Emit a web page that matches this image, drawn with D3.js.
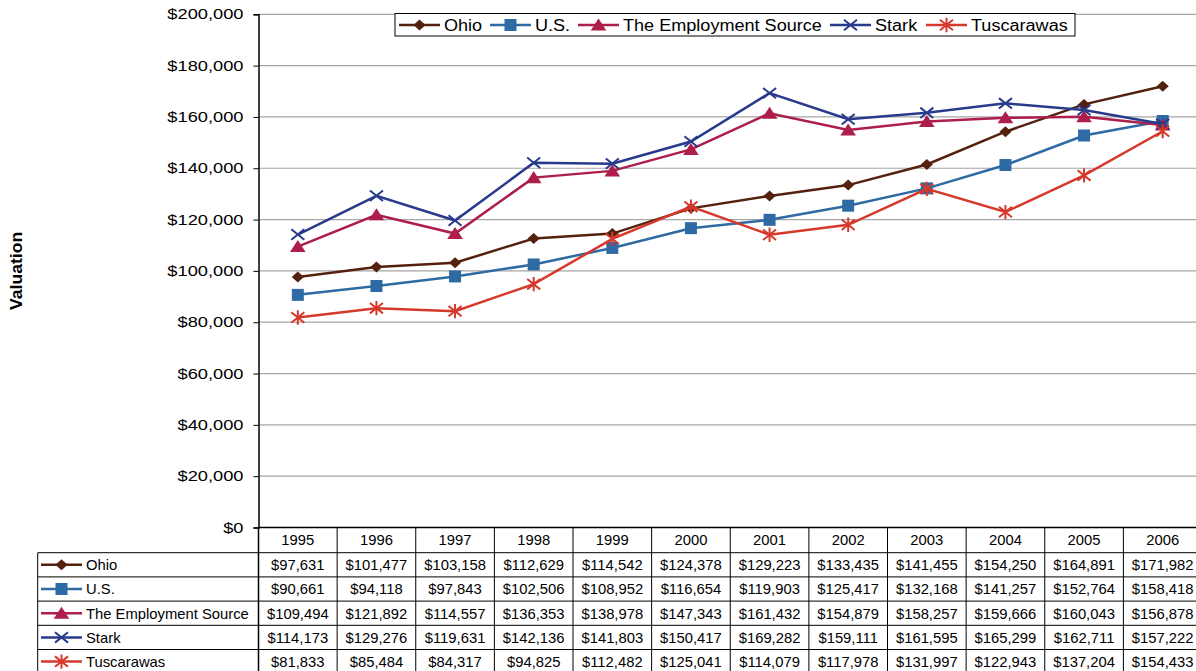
<!DOCTYPE html>
<html>
<head>
<meta charset="utf-8">
<script src="https://d3js.org/d3.v7.min.js"></script>
<style>
  body { margin: 0; background: #fff; }
  text { font-family: Arial, "Liberation Sans", sans-serif; fill: #000; }
</style>
</head>
<body>
<div id="chart"></div>
<script>
// data
var years = ["1995","1996","1997","1998","1999","2000","2001","2002","2003","2004","2005","2006"];
var ohio = [97631,101477,103158,112629,114542,124378,129223,133435,141455,154250,164891,171982];
var us = [90661,94118,97843,102506,108952,116654,119903,125417,132168,141257,152764,158418];
var tes = [109494,121892,114557,136353,138978,147343,161432,154879,158257,159666,160043,156878];
var stark = [114173,129276,119631,142136,141803,150417,169282,159111,161595,165299,162711,157222];
var tusc = [81833,85484,84317,94825,112482,125041,114079,117978,131997,122943,137204,154433];
var yTicks = [0,20000,40000,60000,80000,100000,120000,140000,160000,180000,200000];

var W = 1196, H = 671;
var plotLeft = 258.5, plotRight = 1202, plotTop = 14.3, plotBottom = 527.5;
var rowH = 24.2, headH = 25.2, tableLeft = 37.7;

// custom marker shapes, r = half size
function marker(kind, r) {
  var p = d3.path();
  if (kind == "diamond") {
    p.moveTo(0,-r); p.lineTo(r*1.1,0); p.lineTo(0,r); p.lineTo(-r*1.1,0); p.closePath();
  } else if (kind == "square") {
    p.rect(-r,-r,2*r,2*r);
  } else if (kind == "triangle") {
    p.moveTo(0,-r); p.lineTo(r*1.2,r*0.85); p.lineTo(-r*1.2,r*0.85); p.closePath();
  } else if (kind == "x") {
    p.moveTo(-r,-r*0.8); p.lineTo(r,r*0.8); p.moveTo(-r,r*0.8); p.lineTo(r,-r*0.8);
  } else {
    p.moveTo(-r,-r*0.8); p.lineTo(r,r*0.8); p.moveTo(-r,r*0.8); p.lineTo(r,-r*0.8);
    p.moveTo(0,-r*1.1); p.lineTo(0,r*1.1);
  }
  return p.toString();
}

var series = [
  {name: "Ohio", values: ohio, color: "#55210f", shape: "diamond", r: 5.5, filled: true},
  {name: "U.S.", values: us, color: "#2e6aa3", shape: "square", r: 6, filled: true},
  {name: "The Employment Source", values: tes, color: "#ad1e4a", shape: "triangle", r: 6.5, filled: true},
  {name: "Stark", values: stark, color: "#283a8c", shape: "x", r: 6.5, filled: false},
  {name: "Tuscarawas", values: tusc, color: "#d6392c", shape: "star", r: 6.5, filled: false}
];

var svg = d3.select("#chart").append("svg")
  .attr("width", W).attr("height", H);

var x = d3.scaleBand().domain(years).range([plotLeft, plotRight]);
var y = d3.scaleLinear().domain([0, 200000]).range([plotBottom, plotTop]);

// gridlines
svg.append("g").selectAll("line")
  .data(yTicks.filter(function(d){ return d > 0; }))
  .enter().append("line")
    .attr("x1", plotLeft).attr("x2", W)
    .attr("y1", function(d){ return y(d); }).attr("y2", function(d){ return y(d); })
    .attr("stroke", "#a6a6a6").attr("stroke-width", 1.2);

// y axis
var yAxis = svg.append("g")
  .attr("transform", "translate(" + plotLeft + ",0)")
  .call(d3.axisLeft(y).tickValues(yTicks).tickSize(5).tickPadding(10).tickFormat(d3.format("$,")));
yAxis.select(".domain").attr("stroke", "#000").attr("stroke-width", 1.5);
yAxis.selectAll(".tick line").attr("stroke", "#000");
// labels in the original are drawn wider than normal
yAxis.selectAll("text")
  .attr("x", 0)
  .attr("transform", "translate(-15,0) scale(1.26,1)")
  .attr("font-size", "14.5px")
  .attr("font-family", "Arial, 'Liberation Sans', sans-serif");

svg.append("text")
  .attr("transform", "translate(22," + ((plotTop + plotBottom) / 2) + ") rotate(-90) scale(1.1,1)")
  .attr("text-anchor", "middle")
  .attr("font-weight", "bold")
  .attr("font-size", "16px")
  .text("Valuation");

// lines and markers
var line = d3.line()
  .x(function(d, i){ return x(years[i]) + x.bandwidth() / 2; })
  .y(function(d){ return y(d); });

series.forEach(function(s) {
  var g = svg.append("g");
  g.append("path")
    .attr("d", line(s.values))
    .attr("fill", "none")
    .attr("stroke", s.color)
    .attr("stroke-width", 2.5);
  g.selectAll("path.m")
    .data(s.values)
    .enter().append("path")
      .attr("class", "m")
      .attr("d", marker(s.shape, s.r))
      .attr("transform", function(d, i){ return "translate(" + (x(years[i]) + x.bandwidth() / 2) + "," + y(d) + ")"; })
      .attr("fill", s.filled ? s.color : "none")
      .attr("stroke", s.color)
      .attr("stroke-width", s.filled ? 0 : 2);
});

// legend box at the top
var legend = svg.append("g");
legend.append("rect")
  .attr("x", 395).attr("y", 13.5).attr("width", 680).attr("height", 22.5)
  .attr("fill", "#fff").attr("stroke", "#000").attr("stroke-width", 1);
var legX = [399, 490, 578, 830, 926];
series.forEach(function(s, i) {
  var lg = legend.append("g").attr("transform", "translate(" + legX[i] + ",25)");
  lg.append("line").attr("x1", 0).attr("x2", 41).attr("stroke", s.color).attr("stroke-width", 2.5);
  lg.append("path").attr("d", marker(s.shape, s.r))
    .attr("transform", "translate(20.5,0)")
    .attr("fill", s.filled ? s.color : "none")
    .attr("stroke", s.color).attr("stroke-width", s.filled ? 0 : 2);
  lg.append("text").attr("transform", "translate(45,0) scale(1.13,1)").attr("dy", "0.36em")
    .attr("font-size", "16px").text(s.name);
});

// data table
var table = svg.append("g");
var tableBottom = plotBottom + headH + rowH * series.length;
// header row
table.selectAll("text.yr")
  .data(years).enter().append("text")
    .attr("class", "yr")
    .attr("x", function(d){ return x(d) + x.bandwidth() / 2; })
    .attr("y", plotBottom + headH / 2)
    .attr("dy", "0.36em")
    .attr("text-anchor", "middle")
    .attr("font-size", "14.8px")
    .text(function(d){ return d; });
// vertical lines
table.selectAll("line.v")
  .data(years).enter().append("line")
    .attr("class", "v")
    .attr("x1", function(d){ return x(d) + x.bandwidth(); })
    .attr("x2", function(d){ return x(d) + x.bandwidth(); })
    .attr("y1", plotBottom).attr("y2", tableBottom)
    .attr("stroke", "#000").attr("stroke-width", 1);
table.append("line")
  .attr("x1", plotLeft).attr("x2", plotLeft).attr("y1", plotBottom).attr("y2", tableBottom)
  .attr("stroke", "#000").attr("stroke-width", 1.5);
table.append("line")
  .attr("x1", tableLeft).attr("x2", tableLeft).attr("y1", plotBottom + headH).attr("y2", tableBottom)
  .attr("stroke", "#000").attr("stroke-width", 1);
// horizontal lines
table.append("line")
  .attr("x1", plotLeft).attr("x2", W).attr("y1", plotBottom).attr("y2", plotBottom)
  .attr("stroke", "#000").attr("stroke-width", 1.5);
d3.range(series.length + 1).forEach(function(k) {
  table.append("line")
    .attr("x1", tableLeft).attr("x2", W)
    .attr("y1", plotBottom + headH + k * rowH).attr("y2", plotBottom + headH + k * rowH)
    .attr("stroke", "#000").attr("stroke-width", 1);
});

var fmt = d3.format("$,");
series.forEach(function(s, k) {
  var cy = plotBottom + headH + k * rowH + rowH / 2;
  var row = table.append("g");
  row.append("line").attr("x1", 41).attr("x2", 82).attr("y1", cy).attr("y2", cy)
    .attr("stroke", s.color).attr("stroke-width", 2.5);
  row.append("path").attr("d", marker(s.shape, s.r))
    .attr("transform", "translate(61.5," + cy + ")")
    .attr("fill", s.filled ? s.color : "none")
    .attr("stroke", s.color).attr("stroke-width", s.filled ? 0 : 2);
  row.append("text").attr("x", 86).attr("y", cy).attr("dy", "0.36em")
    .attr("font-size", "14.8px").text(s.name);
  row.selectAll("text.v")
    .data(s.values).enter().append("text")
      .attr("class", "v")
      .attr("x", function(d, i){ return x(years[i]) + x.bandwidth() / 2; })
      .attr("y", cy).attr("dy", "0.36em")
      .attr("text-anchor", "middle")
      .attr("font-size", "14.8px")
      .text(function(d){ return fmt(d); });
});
</script>
</body>
</html>
